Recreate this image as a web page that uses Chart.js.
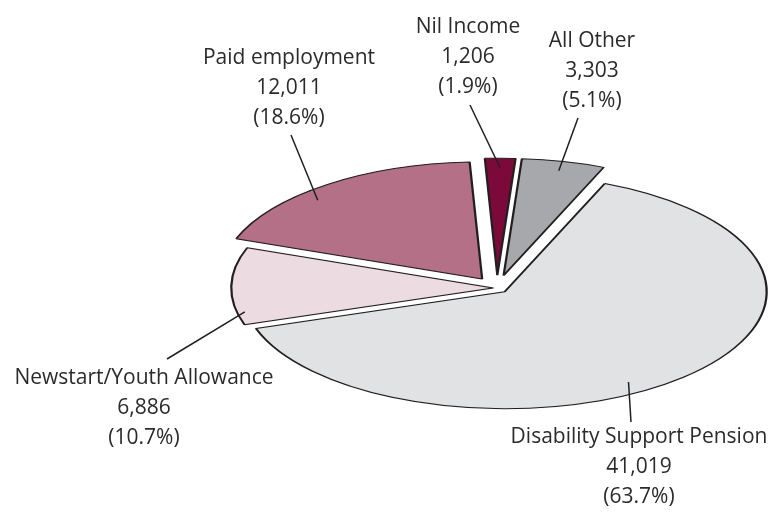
<!DOCTYPE html>
<html>
<head>
<meta charset="utf-8">
<script src="https://cdn.jsdelivr.net/npm/chart.js@4"></script>
<style>
  html, body { margin: 0; padding: 0; background: #fff; }
  #wrap { width: 770px; height: 512px; }
</style>
</head>
<body>
<div id="wrap"><canvas id="pie" width="770" height="512"></canvas></div>
<script>
// Income source of clients
const categories = ["All Other", "Disability Support Pension", "Newstart/Youth Allowance", "Paid employment", "Nil Income"];
const counts = [3303, 41019, 6886, 12011, 1206];
const sliceColors = ["#a7a8ab", "#e1e2e4", "#ecdce1", "#b47086", "#7b0a3b"];
const explode = [92, 36, 12, 80, 92];

// label layout: centre of first text line, outer end of the leader line
const labelAt = [[592, 41], [639, 437], [144, 378], [289, 58], [468, 27]];
const leaderEnd = [[578, 118], [631, 422], [167, 359], [291, 135], [470, 105]];
// inner end of the leader: fraction along the slice angle, fraction of radius
const leaderAt = [[0.5, 0.92], [0.55, 0.905], [0.16, 0.97], [0.4, 0.92], [0.5, 0.92]];

// the pie is drawn flattened into this ellipse
const ELLIPSE = { x: 497, y: 288, rx: 262, ry: 117 };

function squash(chart) {
  const arc = chart.getDatasetMeta(0).data[0];
  const R = chart.$baseRadius || arc.outerRadius;
  return { cx: arc.x, cy: arc.y, R: R, sx: ELLIPSE.rx / R, sy: ELLIPSE.ry / R };
}

// how far chart.js pushes a slice out, and how much it grows / narrows it
function shiftOf(el) {
  return (el.options.offset || 0) / 4;
}
function growthOf(el) {
  return shiftOf(el) * (1 - Math.sin(Math.min(Math.PI, el.circumference || 0)));
}

const squashPlugin = {
  id: "squash",
  beforeDatasetsDraw(chart) {
    const meta = chart.getDatasetMeta(0);
    chart.$baseRadius = meta.data[0].outerRadius;
    const s = squash(chart);
    // keep every exploded slice at the same radius and its full angle
    meta.data.forEach(el => {
      const g = growthOf(el);
      el.$saved = [el.outerRadius, el.startAngle, el.endAngle];
      el.outerRadius = s.R - g;
      const widen = g / (2 * Math.PI * s.R);
      el.startAngle -= widen;
      el.endAngle += widen;
    });
    const ctx = chart.ctx;
    ctx.save();
    ctx.translate(ELLIPSE.x, ELLIPSE.y);
    ctx.scale(s.sx, s.sy);
    ctx.translate(-s.cx, -s.cy);
  },
  afterDatasetsDraw(chart) {
    chart.ctx.restore();
    const meta = chart.getDatasetMeta(0);
    meta.data.forEach(el => {
      [el.outerRadius, el.startAngle, el.endAngle] = el.$saved;
    });
  }
};

const labelPlugin = {
  id: "labels",
  afterDraw(chart) {
    const ctx = chart.ctx;
    const s = squash(chart);
    const meta = chart.getDatasetMeta(0);
    const total = counts.reduce((a, b) => a + b, 0);
    ctx.save();
    meta.data.forEach((el, i) => {
      const mid = (el.startAngle + el.endAngle) / 2;
      const shift = shiftOf(el);
      const a = el.startAngle + leaderAt[i][0] * (el.endAngle - el.startAngle);
      const r = leaderAt[i][1] * s.R;
      const ux = el.x + Math.cos(mid) * shift + Math.cos(a) * r;
      const uy = el.y + Math.sin(mid) * shift + Math.sin(a) * r;
      const px = ELLIPSE.x + (ux - s.cx) * s.sx;
      const py = ELLIPSE.y + (uy - s.cy) * s.sy;

      ctx.strokeStyle = "#231f20";
      ctx.lineWidth = 1.5;
      ctx.beginPath();
      ctx.moveTo(px, py);
      ctx.lineTo(leaderEnd[i][0], leaderEnd[i][1]);
      ctx.stroke();

      ctx.fillStyle = "#2b2b2b";
      ctx.font = '21px "Open Sans"';
      ctx.textAlign = "center";
      ctx.textBaseline = "middle";
      const lines = [
        categories[i],
        counts[i].toLocaleString("en-US"),
        "(" + (counts[i] / total * 100).toFixed(1) + "%)"
      ];
      lines.forEach((t, k) => ctx.fillText(t, labelAt[i][0], labelAt[i][1] + k * 30));
    });
    ctx.restore();
  }
};

new Chart(document.getElementById("pie").getContext("2d"), {
  type: "pie",
  data: {
    labels: categories,
    datasets: [{
      data: counts,
      backgroundColor: sliceColors,
      borderColor: "#231f20",
      borderWidth: 1.8,
      offset: explode,
      hoverOffset: 0
    }]
  },
  options: {
    responsive: false,
    animation: false,
    events: [],
    rotation: 4,
    layout: { padding: 0 },
    plugins: {
      legend: { display: false },
      tooltip: { enabled: false }
    }
  },
  plugins: [squashPlugin, labelPlugin]
});
</script>
</body>
</html>
